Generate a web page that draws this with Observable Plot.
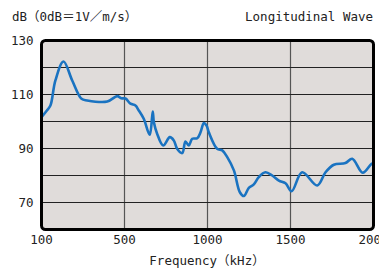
<!DOCTYPE html>
<html>
<head>
<meta charset="utf-8">
<script src="https://cdn.jsdelivr.net/npm/d3@7"></script>
<script src="https://cdn.jsdelivr.net/npm/@observablehq/plot@0.6"></script>
<style>
  html, body { margin: 0; padding: 0; background: #fff; }
  #wrap { position: relative; width: 379px; height: 269px; overflow: hidden; }
  .t { position: absolute; font-family: "DejaVu Sans Mono", "Noto Sans CJK JP", monospace; font-size: 12.5px; color: #222; white-space: nowrap; line-height: 1; }
</style>
</head>
<body>
<div id="wrap"></div>
<script>
const freqKHz = [100, 126, 143, 167, 206, 248, 293, 320, 417, 465, 484, 506, 536, 566, 586, 616, 652, 670, 677, 697, 733, 773, 797, 817, 848, 867, 887, 908, 938, 958, 978, 994, 1008, 1058, 1089, 1119, 1159, 1195, 1219, 1249, 1279, 1309, 1349, 1390, 1430, 1470, 1507, 1570, 1661, 1711, 1761, 1831, 1872, 1935, 1988, 2000];
const levelDb = [101.6, 104.1, 105.9, 115.2, 122.2, 115.2, 108.4, 107.8, 107.4, 109.4, 108.6, 108.5, 106.6, 105.9, 104.1, 101.0, 95.1, 103.7, 99.7, 95.4, 91.1, 94.2, 93.0, 89.9, 88.3, 92.6, 91.1, 93.6, 93.8, 96.0, 99.4, 98.5, 96.0, 89.9, 89.3, 86.8, 81.9, 73.8, 72.4, 75.4, 76.7, 79.4, 81.2, 80.0, 78.1, 77.1, 74.2, 81.2, 76.3, 81.2, 84.0, 84.6, 86.2, 81.0, 84.3, 84.5];
const xTicks = [100, 500, 1000, 1500, 2000];
const yTicks = [70, 90, 110, 130];
const yGrid = [70, 80, 90, 100, 110, 120];
const xGrid = [500, 1000, 1500];
const titleLeft = "dB（0dB＝1V／m/s）";
const titleRight = "Longitudinal Wave";
const xLabel = "Frequency（kHz）";

const data = freqKHz.map((f, i) => ({f, db: levelDb[i]}));

const chart = Plot.plot({
  width: 379,
  height: 269,
  marginTop: 40,
  marginBottom: 40,
  marginLeft: 41,
  marginRight: 6,
  style: {fontFamily: "'DejaVu Sans Mono', 'Noto Sans CJK JP', monospace", fontSize: "12.5px", color: "#222", background: "transparent"},
  x: {type: "linear", domain: xTicks, label: null},
  y: {type: "linear", domain: [60, 130], label: null},
  marks: [
    Plot.frame({fill: "#e0dcda", stroke: null, rx: 4}),
    Plot.ruleX(xGrid, {stroke: "#555", strokeWidth: 1.2}),
    Plot.ruleY(yGrid, {stroke: "#222", strokeWidth: 1.2}),
    Plot.line(data, {x: "f", y: "db", stroke: "#1a73c1", strokeWidth: 2.6, curve: "catmull-rom"}),
    Plot.frame({stroke: "#000", strokeWidth: 3, rx: 4}),
    Plot.axisX({ticks: xTicks, tickSize: 0, tickPadding: 6, tickFormat: d => String(d), label: null}),
    Plot.axisY({ticks: yTicks, tickSize: 0, tickPadding: 8, tickFormat: d => String(d), label: null})
  ]
});
const wrap = document.getElementById("wrap");
wrap.appendChild(chart);

function addText(txt, css) {
  const d = document.createElement("div");
  d.className = "t";
  d.textContent = txt;
  Object.assign(d.style, css);
  wrap.appendChild(d);
}
addText(titleLeft, {left: "12px", top: "11px"});
addText(titleRight, {right: "6px", top: "11px"});
addText(xLabel, {left: "0", width: "414px", textAlign: "center", top: "255px"});
</script>
</body>
</html>
